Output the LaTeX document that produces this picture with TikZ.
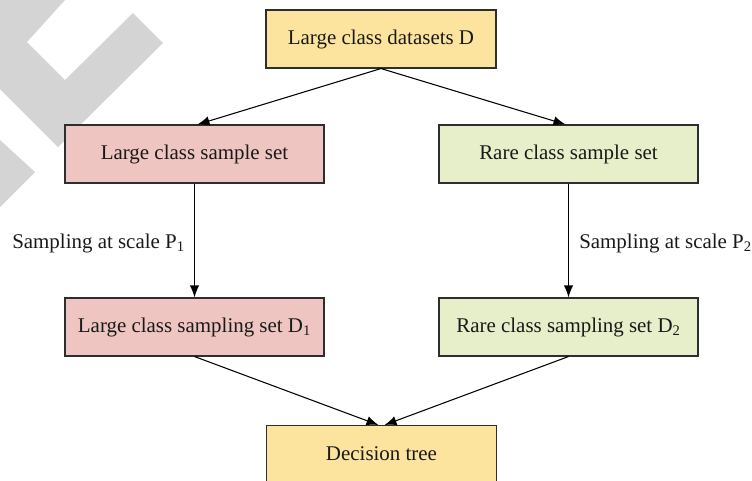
\documentclass[tikz,border=0pt]{standalone}
\usepackage{fontspec}
\setmainfont{Liberation Serif}
\usetikzlibrary{arrows.meta,calc}
\definecolor{boxyellow}{HTML}{FCE49E}
\definecolor{boxpink}{HTML}{EEC5C0}
\definecolor{boxgreen}{HTML}{E6EFC9}
\definecolor{edgegray}{HTML}{2E2E2E}
\definecolor{wmgray}{HTML}{D4D4D4}
\tikzset{
  box/.style={draw=edgegray, line width=0.8pt, minimum height=58*0.75pt, inner sep=0pt, font=\fontsize{15.7}{17}\selectfont, text=black!90},
  ybox/.style={box, fill=boxyellow, minimum width=230*0.75pt},
  pbox/.style={box, fill=boxpink, minimum width=259*0.75pt},
  gbox/.style={box, fill=boxgreen, minimum width=259*0.75pt},
  arr/.style={draw=black, line width=0.8pt, -{Latex[length=9pt,width=7pt]}},
  lbl/.style={font=\fontsize{15.7}{17}\selectfont, text=black!90, inner sep=0pt},
  wm/.style={fill=wmgray, draw=none}
}
\begin{document}
\begin{tikzpicture}[x=0.75pt, y=-0.75pt]
\useasboundingbox (0,0) rectangle (752,480);
% watermark
\fill[wm] (0,0) -- (65,0) -- (27,42) -- (65,80) -- (133,13) -- (163,43) -- (58,147) -- (0,89) -- cycle;
\fill[wm] (0,140) -- (35,172) -- (0,207) -- cycle;
% nodes
\node[ybox] (top) at (381,39) {Large class datasets D};
\node[pbox] (ls) at (194.5,154) {Large class sample set};
\node[gbox] (rs) at (568.5,154) {Rare class sample set};
\node[pbox] (ld) at (194.5,327) {Large class sampling set D\textsubscript{1}};
\node[gbox] (rd) at (568.5,327) {Rare class sampling set D\textsubscript{2}};
\node[ybox, anchor=north] (dt) at (381.5,425) {};
\node[lbl] (dtt) at (381.5,454) {Decision tree};
% labels
\node[lbl, anchor=base west] (l1) at (12,248) {Sampling at scale P\textsubscript{1}};
\node[lbl, anchor=base west] (l2) at (579,248) {Sampling at scale P\textsubscript{2}};
% connectors
\draw[arr] (top.south) -- ($(ls.north)+(3,0)$);
\draw[arr] (top.south) -- ($(rs.north)+(-3,0)$);
\draw[arr] (ls.south) -- (ld.north);
\draw[arr] (rs.south) -- (rd.north);
\draw[arr] (ld.south) -- ($(dt.north)+(-3,0)$);
\draw[arr] (rd.south) -- ($(dt.north)+(3,0)$);
\end{tikzpicture}
\end{document}
